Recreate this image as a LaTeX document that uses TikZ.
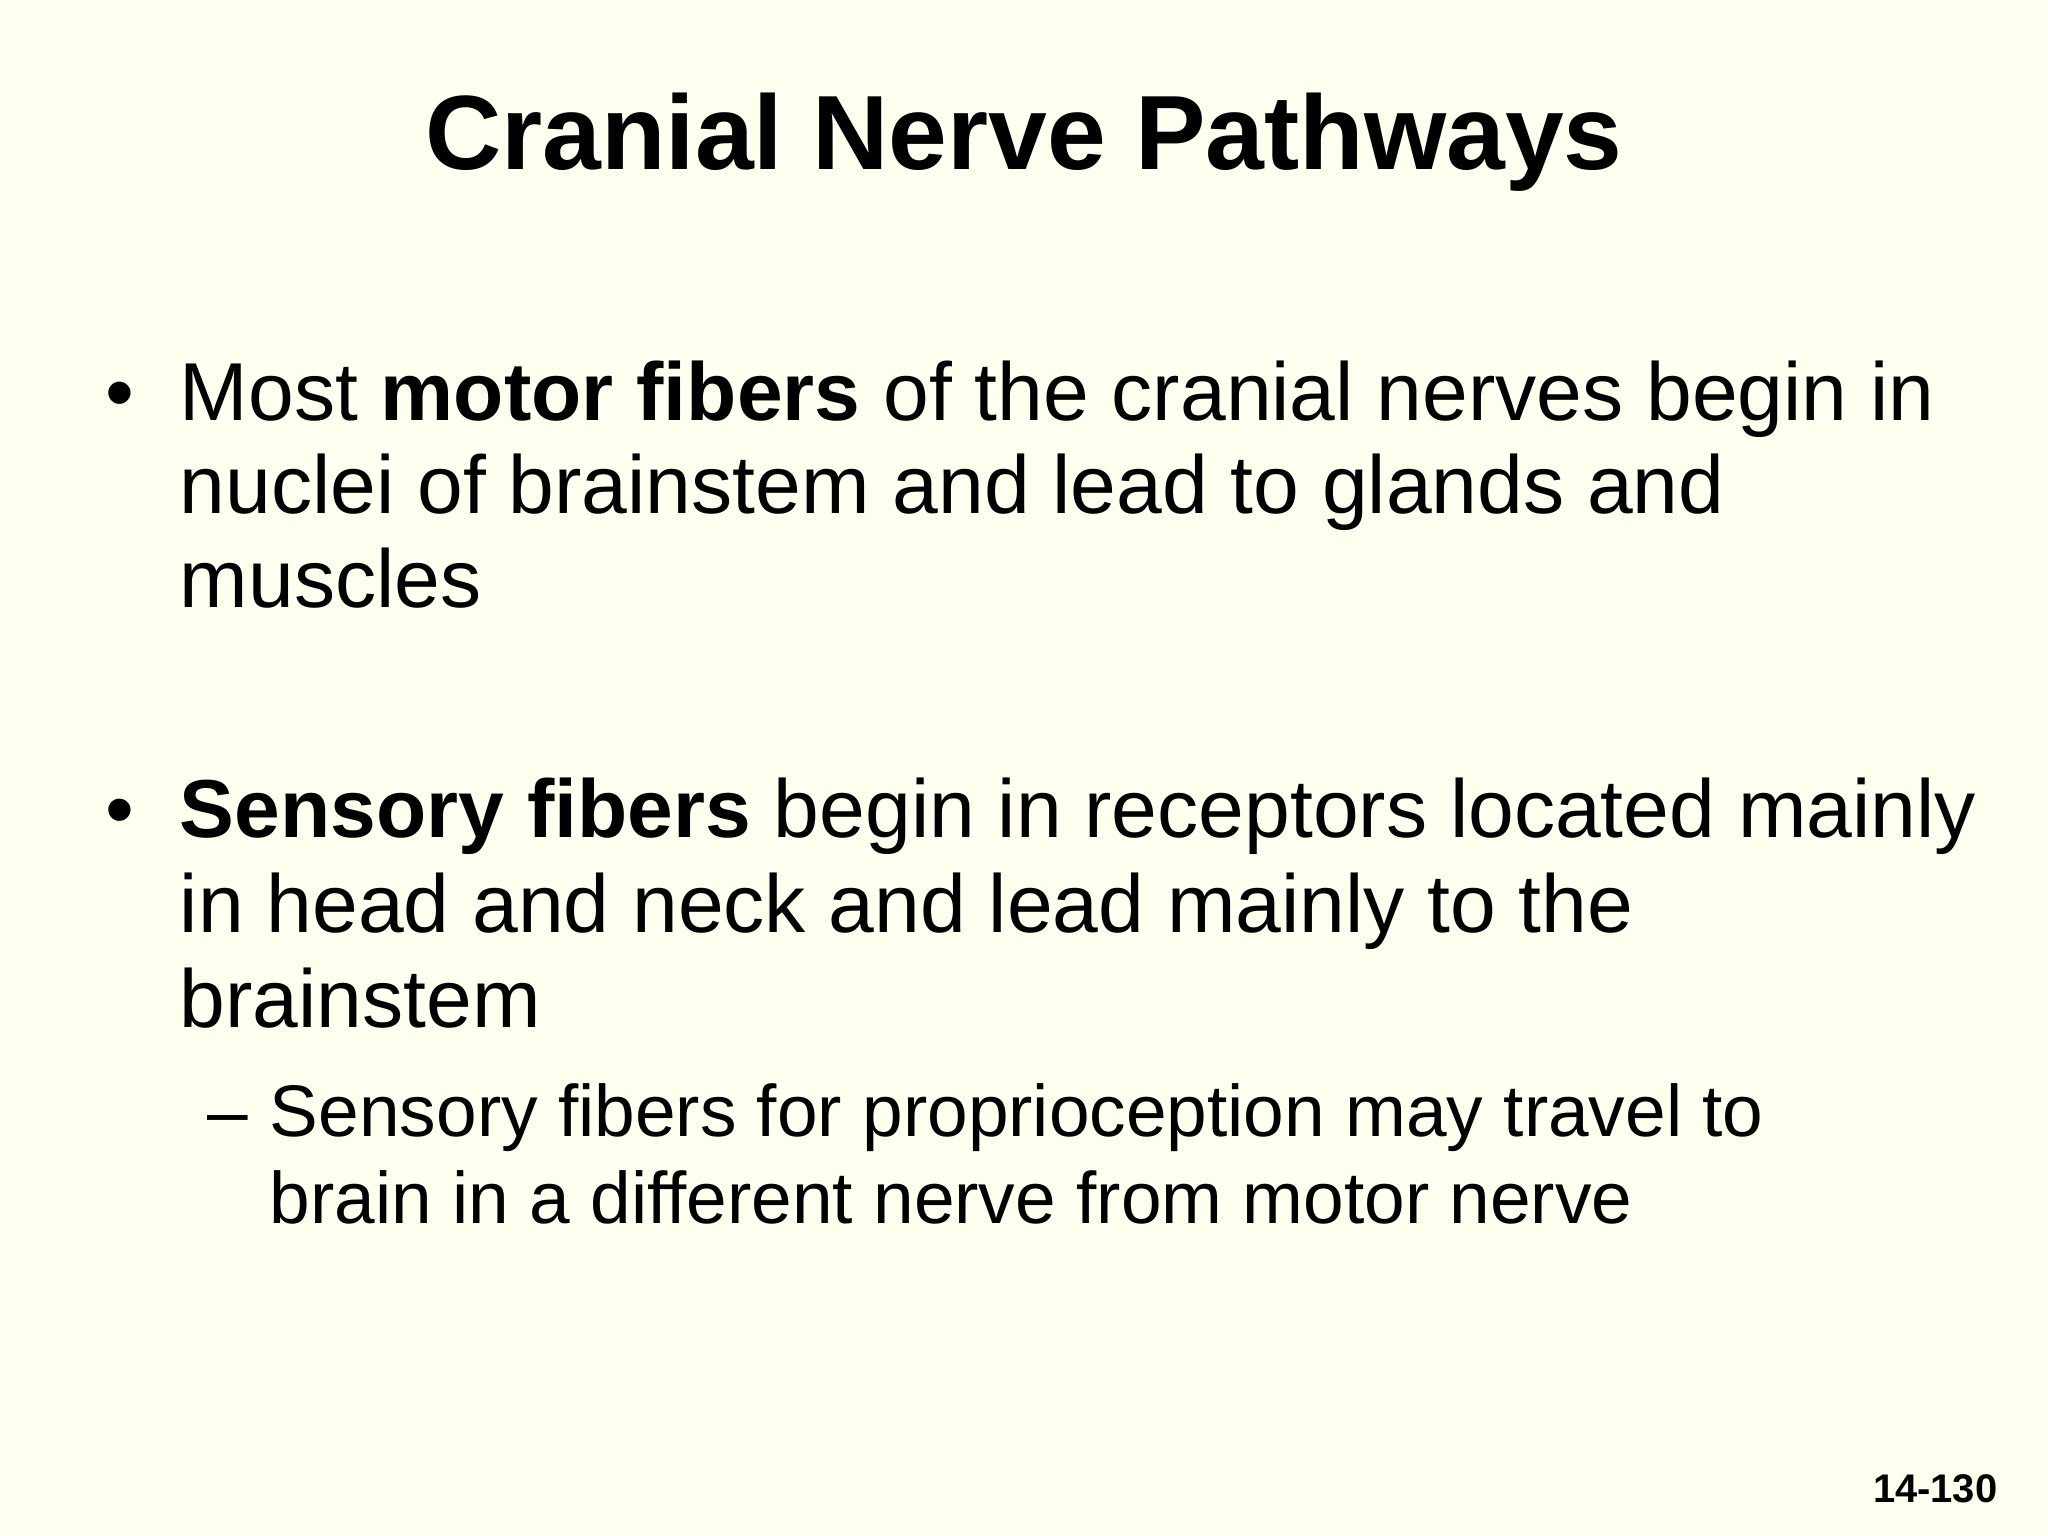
\documentclass[tikz,border=0pt]{standalone}
\usepackage{fontspec}
\setmainfont{Liberation Sans}
\definecolor{bg}{HTML}{FFFFF0}
\begin{document}
\begin{tikzpicture}[x=0.01cm,y=-0.01cm,
  txt/.style={anchor=base west,inner sep=0,font=\fontsize{17.9pt}{20pt}\selectfont},
  sub/.style={anchor=base west,inner sep=0,font=\fontsize{15.9pt}{18pt}\selectfont}]
\fill[bg] (0,0) rectangle (1568,1176);
\useasboundingbox (0,0) rectangle (1568,1176);
\node[anchor=base,inner sep=0,font=\fontsize{23pt}{26pt}\selectfont\bfseries] (title) at (784,130) {Cranial Nerve Pathways};
\node[txt] (b1) at (80,322) {•};
\node[txt] (l1) at (137,322) {Most \textbf{motor fibers} of the cranial nerves begin in};
\node[txt] (l2) at (137,393) {nuclei of brainstem and lead to glands and};
\node[txt] (l3) at (137,465) {muscles};
\node[txt] (b2) at (80,641) {•};
\node[txt] (l4) at (137,641) {\textbf{Sensory fibers} begin in receptors located mainly};
\node[txt] (l5) at (137,714) {in head and neck and lead mainly to the};
\node[txt] (l6) at (137,787) {brainstem};
\node[sub] (d1) at (158,870) {–};
\node[sub] (l7) at (206,870) {Sensory fibers for proprioception may travel to};
\node[sub] (l8) at (206,937) {brain in a different nerve from motor nerve};
\node[anchor=base east,inner sep=0,font=\fontsize{8.7pt}{10pt}\selectfont\bfseries] (pg) at (1530,1150) {14-130};
\end{tikzpicture}
\end{document}
